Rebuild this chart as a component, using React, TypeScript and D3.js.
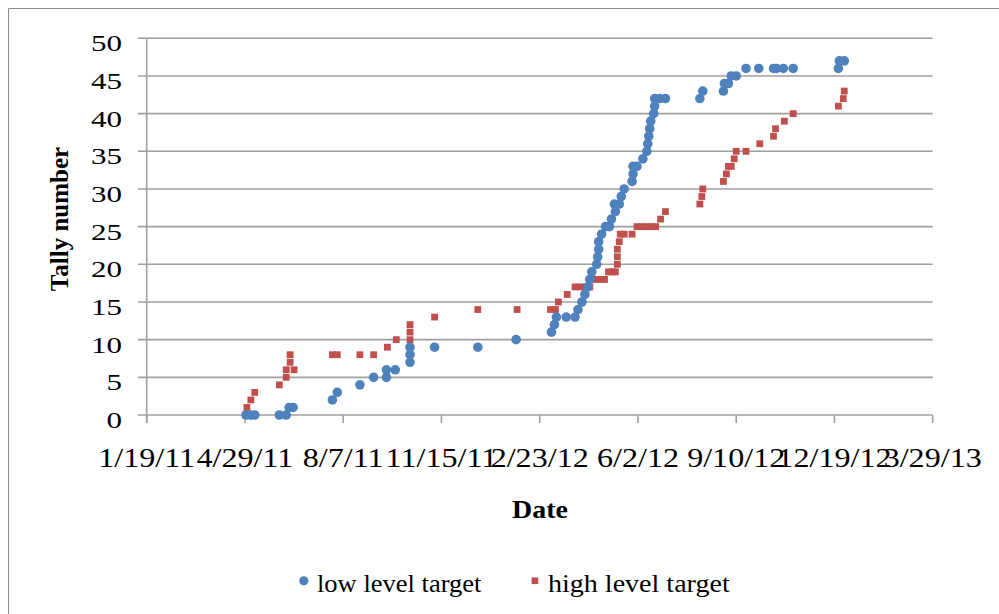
import React from "react";
import * as d3 from "d3";

const lowDates = [
  "2011-04-30","2011-05-05","2011-05-09","2011-06-03","2011-06-10","2011-06-13","2011-06-17",
  "2011-07-27","2011-08-01","2011-08-24","2011-09-07","2011-09-20","2011-09-20","2011-09-29",
  "2011-10-14","2011-10-14","2011-10-14","2011-11-08","2011-12-22","2012-01-30","2012-03-06",
  "2012-03-09","2012-03-11","2012-03-21","2012-03-30","2012-04-02","2012-04-06","2012-04-09",
  "2012-04-12","2012-04-14","2012-04-16","2012-04-21","2012-04-22","2012-04-23","2012-04-23",
  "2012-04-26","2012-04-30","2012-05-04","2012-05-06","2012-05-10","2012-05-09","2012-05-14",
  "2012-05-16","2012-05-19","2012-05-27","2012-05-28","2012-05-28","2012-06-01","2012-06-07",
  "2012-06-11","2012-06-12","2012-06-13","2012-06-14","2012-06-15","2012-06-18","2012-06-19",
  "2012-06-19","2012-06-24","2012-06-30","2012-08-04","2012-08-07","2012-08-28","2012-08-29",
  "2012-09-02","2012-09-05","2012-09-10","2012-09-20","2012-10-03","2012-10-18","2012-10-21",
  "2012-10-28","2012-11-07","2012-12-23","2012-12-24","2012-12-29"
];
const lowValues = [
  0,0,0,0,0,1,1,
  2,3,4,5,5,6,6,
  7,8,9,9,9,10,11,
  12,13,13,13,14,15,16,
  17,18,19,20,21,22,23,
  24,25,25,26,27,28,28,
  29,30,31,32,33,33,34,
  35,36,37,38,39,40,41,
  42,42,42,42,43,43,44,
  44,45,45,46,46,46,46,
  46,46,46,47,47
];

const highDates = [
  "2011-05-01","2011-05-05","2011-05-09","2011-06-03","2011-06-10","2011-06-10","2011-06-14",
  "2011-06-14","2011-06-18","2011-07-27","2011-08-01","2011-08-24","2011-09-07","2011-09-21",
  "2011-09-30","2011-10-14","2011-10-14","2011-10-14","2011-11-08","2011-12-22","2012-01-31",
  "2012-03-05","2012-03-10","2012-03-13","2012-03-22","2012-03-30","2012-04-04","2012-04-09",
  "2012-04-14","2012-04-16","2012-04-20","2012-04-25","2012-04-29","2012-05-03","2012-05-07",
  "2012-05-10","2012-05-12","2012-05-12","2012-05-12","2012-05-14","2012-05-15","2012-05-19",
  "2012-05-27","2012-06-01","2012-06-06","2012-06-11","2012-06-16","2012-06-20","2012-06-25",
  "2012-06-30","2012-08-04","2012-08-06","2012-08-07","2012-08-28","2012-08-31","2012-09-02",
  "2012-09-05","2012-09-08","2012-09-10","2012-09-20","2012-10-04","2012-10-18","2012-10-20",
  "2012-10-29","2012-11-07","2012-12-23","2012-12-28","2012-12-29"
];
const highValues = [
  1,2,3,4,5,6,7,
  8,6,8,8,8,8,9,
  10,10,11,12,13,14,14,
  14,14,15,16,17,17,17,
  17,18,18,18,18,19,19,
  19,20,21,22,23,24,24,
  24,25,25,25,25,25,26,
  27,28,29,30,31,32,33,
  33,34,35,35,36,37,38,
  39,40,41,42,43
];

const yTicks = [0, 5, 10, 15, 20, 25, 30, 35, 40, 45, 50];
const xStart = "2011-01-19";
const xEnd = "2013-03-29";
const xStepDays = 100;
const seriesNames = ["low level target", "high level target"];

const W = 999;
const H = 614;
const BLUE = "#4F81BD";
const RED = "#C0504D";
const GRID = "#A0A0A0";
const FONT = "'Liberation Serif', 'Times New Roman', serif";

export default function App() {
  const parse = d3.utcParse("%Y-%m-%d");
  const start = parse(xStart)!;
  const end = parse(xEnd)!;
  const x = d3.scaleUtc().domain([start, end]).range([146.7, 932.7]);
  const y = d3.scaleLinear().domain([0, 50]).range([415, 38.3]);
  const nSteps = Math.round(d3.utcDay.count(start, end) / xStepDays);
  const xTicks = d3.range(nSteps + 1).map((i) => d3.utcDay.offset(start, i * xStepDays));
  const fmt = d3.utcFormat("%-m/%-d/%y");

  const low = lowDates.map((d, i) => ({ x: x(parse(d)!), y: y(lowValues[i]) }));
  const high = highDates.map((d, i) => ({ x: x(parse(d)!), y: y(highValues[i]) }));
  const [x0, x1] = x.range();

  return (
    <svg
      width={W}
      height={H}
      style={{ position: "absolute", left: 0, top: 0, background: "#fff" }}
      fontFamily={FONT}
    >
      <rect x={0} y={0} width={W} height={H} fill="#fff" />
      <path d={`M8.5,${H} V8.5 H${W}`} fill="none" stroke="#8C8C8C" strokeWidth={1} />

      {yTicks.map((t) => (
        <line key={"g" + t} x1={138} x2={x1} y1={y(t)} y2={y(t)} stroke={GRID} strokeWidth={1.6} />
      ))}
      <line x1={x0} x2={x0} y1={y(50)} y2={y(0) + 8} stroke={GRID} strokeWidth={1.6} />
      {xTicks.map((t, i) => (
        <line key={"xt" + i} x1={x(t)} x2={x(t)} y1={y(0)} y2={y(0) + 8} stroke={GRID} strokeWidth={1.6} />
      ))}

      {yTicks.map((t) => (
        <text
          key={"yl" + t}
          transform={`translate(122,${y(t) + 13}) scale(1.35,1)`}
          textAnchor="end"
          fontSize={23}
          fill="#000"
        >
          {t}
        </text>
      ))}
      {xTicks.map((t, i) => (
        <text
          key={"xl" + i}
          transform={`translate(${x(t)},466.5) scale(1.19,1)`}
          textAnchor="middle"
          fontSize={27}
          fill="#000"
        >
          {fmt(t)}
        </text>
      ))}

      <text
        transform="translate(68,219) rotate(-90)"
        textAnchor="middle"
        fontSize={25}
        fontWeight="bold"
        fill="#000"
      >
        Tally number
      </text>
      <text transform="translate(540,518.3) scale(1.14,1)" textAnchor="middle" fontSize={24.5} fontWeight="bold" fill="#000">
        Date
      </text>

      {high.map((p, i) => (
        <rect key={"h" + i} x={p.x - 3.4} y={p.y - 3.4} width={6.8} height={6.8} fill={RED} />
      ))}
      {low.map((p, i) => (
        <circle key={"l" + i} cx={p.x} cy={p.y} r={4.8} fill={BLUE} />
      ))}

      <circle cx={303.8} cy={580.8} r={4.6} fill={BLUE} />
      <text transform="translate(317,591.7) scale(1.04,1)" fontSize={25.5} fill="#000">
        {seriesNames[0]}
      </text>
      <rect x={531.6} y={577.4} width={6.7} height={6.7} fill={RED} />
      <text transform="translate(548,591.7) scale(1.1,1)" fontSize={25.5} fill="#000">
        {seriesNames[1]}
      </text>
    </svg>
  );
}
